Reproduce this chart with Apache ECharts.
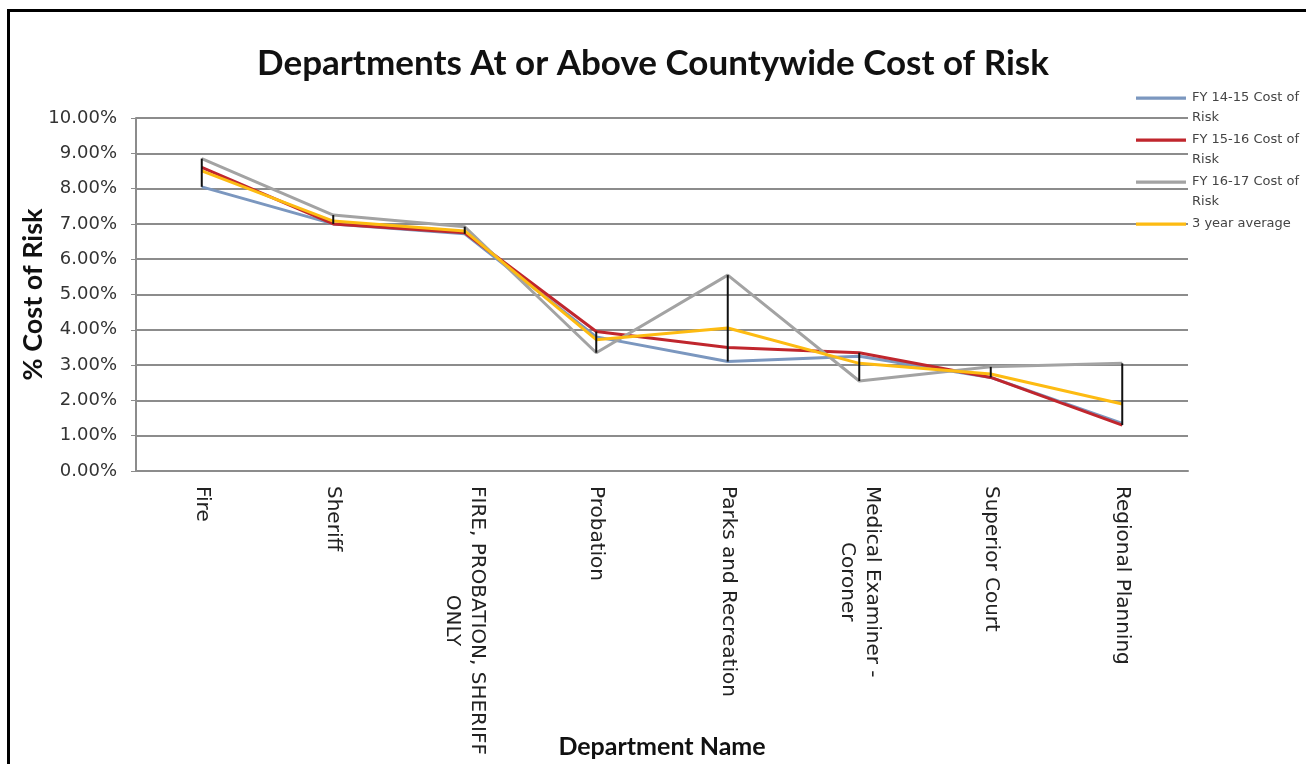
<!DOCTYPE html>
<html>
<head>
<meta charset="utf-8">
<title>Departments At or Above Countywide Cost of Risk</title>
<script src="https://cdn.jsdelivr.net/npm/echarts@6/dist/echarts.min.js"></script>
<style>
  html, body { margin: 0; padding: 0; background: #fff; }
  #chart { position: absolute; left: 0; top: 0; width: 1306px; height: 764px; }
  #frame { position: absolute; left: 7px; top: 9px; width: 1299px; height: 755px;
           border-left: 3px solid #000; border-top: 3px solid #000; box-sizing: border-box;
           pointer-events: none; }
</style>
</head>
<body>
<div id="chart"></div>
<div id="frame"></div>
<script>
// Departments (line breaks as shown on the axis)
const departments = [
  'Fire',
  'Sheriff',
  'FIRE, PROBATION, SHERIFF\nONLY',
  'Probation',
  'Parks and Recreation',
  'Medical Examiner -\nCoroner',
  'Superior Court',
  'Regional Planning'
];

// % cost of risk by fiscal year
const fy1415 = [8.05, 7.00, 6.72, 3.80, 3.10, 3.25, 2.65, 1.35];
const fy1516 = [8.60, 7.00, 6.75, 3.95, 3.50, 3.35, 2.65, 1.30];
const fy1617 = [8.85, 7.25, 6.92, 3.35, 5.55, 2.55, 2.95, 3.05];
const threeYearAvg = [8.50, 7.08, 6.80, 3.72, 4.05, 3.05, 2.75, 1.90];

const yTicks = [0, 1, 2, 3, 4, 5, 6, 7, 8, 9, 10];

const seriesNames = ['FY 14-15 Cost of Risk', 'FY 15-16 Cost of Risk', 'FY 16-17 Cost of Risk', '3 year average'];

// high-low span of the three fiscal years per department
const highLow = departments.map((d, i) => {
  const v = [fy1415[i], fy1516[i], fy1617[i]];
  return [i, Math.min.apply(null, v), Math.max.apply(null, v)];
});

const chart = echarts.init(document.getElementById('chart'), null, { renderer: 'canvas' });

// legend icon: a short bar sitting on the first text line of a two-line entry
const legendIcon = 'path://M0,8.5h50v3.2h-50z M0,0h0.01v0.01h-0.01z M0,40h0.01v0.01h-0.01z';

function lineSeries(name, data, color, z) {
  return {
    name: name,
    type: 'line',
    data: data,
    symbol: 'none',
    z: z,
    lineStyle: { color: color, width: 3 },
    itemStyle: { color: color },
    emphasis: { disabled: true }
  };
}

chart.setOption({
  backgroundColor: '#ffffff',
  animation: false,
  title: {
    text: 'Departments At or Above Countywide Cost of Risk',
    left: 'center',
    top: 41,
    textStyle: { fontFamily: 'Lato', fontWeight: 'bold', fontSize: 35, color: '#111' }
  },
  legend: {
    orient: 'vertical',
    left: 1131,
    top: 83,
    itemWidth: 52,
    itemHeight: 40,
    itemGap: 2,
    icon: legendIcon,
    data: seriesNames,
    formatter: function (name) {
      return name.indexOf(' Cost of Risk') >= 0
        ? name.replace(' Cost of Risk', ' Cost of\nRisk')
        : name + '\n ';
    },
    textStyle: { fontFamily: 'DejaVu Sans', fontSize: 13, color: '#444', lineHeight: 20 }
  },
  grid: { left: 136, right: 118, top: 118, bottom: 293, containLabel: false, outerBoundsMode: 'none' },
  xAxis: {
    type: 'category',
    data: departments,
    boundaryGap: true,
    name: 'Department Name',
    nameLocation: 'middle',
    nameGap: 263,
    nameMoveOverlap: false,
    nameTextStyle: { fontFamily: 'Lato', fontWeight: 'bold', fontSize: 25, color: '#111' },
    axisLine: { lineStyle: { color: '#8c8c8c', width: 2 } },
    axisTick: { show: false },
    axisLabel: {
      interval: 0,
      rotate: -90,
      margin: 15,
      formatter: function (v) {
        return v.split('\n').map(s => '{c|' + s + '}').join('\n');
      },
      rich: {
        c: { align: 'center', fontFamily: 'DejaVu Sans', fontSize: 20, color: '#222', lineHeight: 25 }
      }
    }
  },
  yAxis: {
    type: 'value',
    min: 0,
    max: 10,
    interval: 1,
    name: '% Cost of Risk',
    nameLocation: 'middle',
    nameGap: 89,
    nameMoveOverlap: false,
    nameTextStyle: { fontFamily: 'Lato', fontWeight: 'bold', fontSize: 27, color: '#111' },
    axisLine: { show: true, lineStyle: { color: '#8c8c8c', width: 2 } },
    axisTick: { show: true, length: 5, lineStyle: { color: '#8c8c8c', width: 1 } },
    splitLine: { lineStyle: { color: '#8c8c8c', width: 2 } },
    axisLabel: {
      margin: 19,
      fontFamily: 'DejaVu Sans',
      fontSize: 18,
      color: '#333',
      formatter: function (v) { return v.toFixed(2) + '%'; }
    }
  },
  series: [
    lineSeries(seriesNames[0], fy1415, '#7b97bf', 3),
    lineSeries(seriesNames[1], fy1516, '#c0262d', 4),
    lineSeries(seriesNames[2], fy1617, '#a3a3a3', 5),
    lineSeries(seriesNames[3], threeYearAvg, '#fdbb12', 6),
    {
      type: 'custom',
      name: 'high-low',
      data: highLow,
      z: 7,
      silent: true,
      encode: { x: 0, y: [1, 2] },
      renderItem: function (params, api) {
        const lo = api.coord([api.value(0), api.value(1)]);
        const hi = api.coord([api.value(0), api.value(2)]);
        return {
          type: 'line',
          shape: { x1: lo[0], y1: lo[1], x2: hi[0], y2: hi[1] },
          style: { stroke: '#111', lineWidth: 2 }
        };
      }
    }
  ]
});
</script>
</body>
</html>
